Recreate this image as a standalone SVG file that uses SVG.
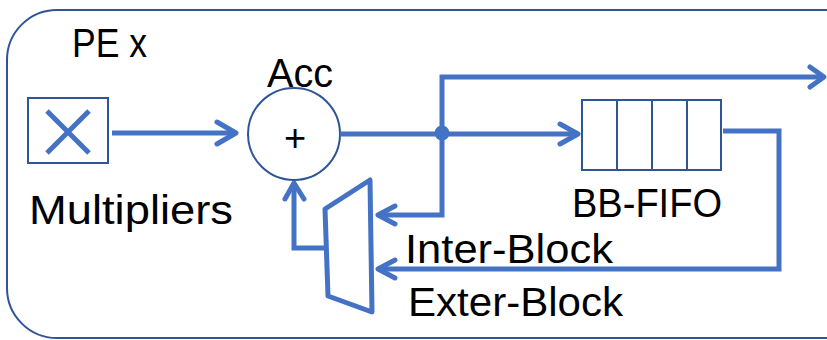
<svg xmlns="http://www.w3.org/2000/svg" width="827" height="340" viewBox="0 0 827 340">
  <defs>
    <style>
      .frame { fill: #ffffff; stroke: #2F5597; stroke-width: 2; }
      .outline { fill: none; stroke: #2F5597; stroke-width: 2; }
      .wire { fill: none; stroke: #4472C4; stroke-width: 5; stroke-linejoin: miter; }
      .head { fill: none; stroke: #4472C4; stroke-width: 5; stroke-linecap: round; stroke-linejoin: round; }
      .label { font-family: "Liberation Sans", Arial, sans-serif; font-size: 40px; fill: #000000; }
      .sign { font-family: "Liberation Sans", Arial, sans-serif; font-size: 38px; fill: #000000; }
    </style>
  </defs>

  <!-- processing element boundary -->
  <rect class="frame" x="7" y="10" width="870" height="328" rx="50" ry="50"/>
  <text class="label" x="72" y="57" textLength="75" lengthAdjust="spacingAndGlyphs">PE x</text>

  <!-- multiplier block -->
  <g id="multipliers">
    <rect class="outline" x="28" y="98" width="80" height="65"/>
    <path d="M47 111 L89 153 M89 111 L47 153" stroke="#4472C4" stroke-width="5" fill="none"/>
    <text class="label" x="29" y="224" textLength="204" lengthAdjust="spacingAndGlyphs">Multipliers</text>
  </g>

  <!-- accumulator adder -->
  <g id="acc">
    <circle class="outline" cx="294" cy="134" r="46" fill="#ffffff"/>
    <text class="sign" x="295" y="151" text-anchor="middle">+</text>
    <text class="label" x="267" y="87" textLength="66" lengthAdjust="spacingAndGlyphs">Acc</text>
  </g>

  <!-- block-buffer FIFO -->
  <g id="bb-fifo">
    <rect class="outline" x="582" y="100" width="139" height="70" fill="#ffffff"/>
    <path class="outline" d="M617 100 V170 M652 100 V170 M687 100 V170"/>
    <text class="label" x="572" y="217" textLength="150" lengthAdjust="spacingAndGlyphs">BB-FIFO</text>
  </g>

  <!-- input selector -->
  <g id="mux">
    <polygon points="325,209 370,180 372,312 328,296" fill="none" stroke="#4472C4" stroke-width="5" stroke-linejoin="round"/>
  </g>

  <!-- connections -->
  <g id="connectors">
    <!-- multiplier to adder -->
    <path class="wire" d="M112 133 H236"/>
    <path class="head" d="M217 122 L236 133 L217 144"/>

    <!-- adder output to FIFO -->
    <path class="wire" d="M340 134 H578"/>
    <path class="head" d="M560 124 L578 134 L560 144"/>
    <circle cx="442" cy="133" r="7.5" fill="#4472C4"/>

    <!-- tap out of the PE -->
    <path class="wire" d="M442 134 V77 H824"/>
    <path class="head" d="M810 67 L824 77 L810 87"/>

    <!-- inter-block feedback -->
    <path class="wire" d="M442 134 V215 H378"/>
    <path class="head" d="M395 206 L378 215 L395 224"/>

    <!-- FIFO output, exter-block feedback -->
    <path class="wire" d="M723 131 H779 V269 H378"/>
    <path class="head" d="M395 260 L378 269 L395 278"/>

    <!-- selector output back to adder -->
    <path class="wire" d="M325 248 H294 V183"/>
    <path class="head" d="M285 199 L294 183 L304 199"/>
  </g>

  <text class="label" x="405" y="263" textLength="208" lengthAdjust="spacingAndGlyphs">Inter-Block</text>
  <text class="label" x="408" y="316" textLength="215" lengthAdjust="spacingAndGlyphs">Exter-Block</text>
</svg>
